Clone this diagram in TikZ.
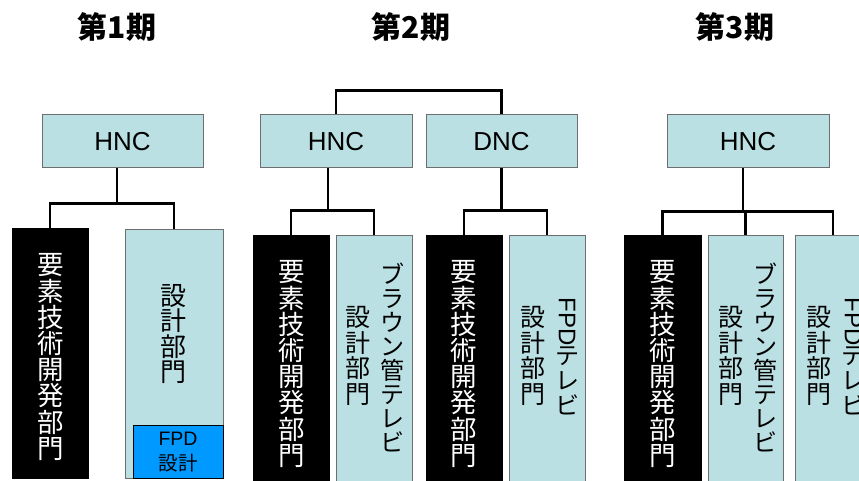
\documentclass[tikz,border=0pt]{standalone}
\usepackage{fontspec}
\setmainfont{Liberation Sans}
\newfontfamily\jp{Noto Sans CJK JP}
\usepackage{graphicx}
\definecolor{lb}{HTML}{BBE0E3}
\definecolor{fpdblue}{HTML}{0099FF}
\definecolor{bd}{HTML}{6E6E6E}
\begin{document}
\begin{tikzpicture}[x=1pt,y=-1pt,
  conn/.style={line width=2.8pt},
  topbox/.style={draw=bd, fill=lb, line width=1pt, inner sep=0pt, minimum height=53pt, font=\fontsize{26}{30}\selectfont},
  lbox/.style={draw=bd, fill=lb, line width=0.9pt, inner sep=0pt},
  kbox/.style={draw=black, fill=black, line width=0.9pt, inner sep=0pt},
  title/.style={inner sep=0pt, font=\jp\bfseries\fontsize{30}{30}\selectfont},
  vtxt/.style={inner sep=0pt, align=center}
]
\useasboundingbox (0,0) rectangle (859,481);
\clip (0,0) rectangle (859,481);

% titles
\node[title] (t1) at (117,27) {第1期};
\node[title] (t2) at (411,27) {第2期};
\node[title] (t3) at (735,27) {第3期};

% ---------- period 1
\node[topbox, minimum width=161pt] (h1) at (122.5,141.5) {HNC};
\node[kbox, minimum width=76pt, minimum height=250pt] (b1) at (50,353) {};
\node[lbox, minimum width=98pt, minimum height=249pt] (c1) at (174,353.5) {};
\node[draw=black, fill=fpdblue, line width=0.9pt, inner sep=0pt, minimum width=90pt, minimum height=53pt] (f1) at (178,451.5) {};
\node[vtxt, text=white, font=\jp\fontsize{26.5}{26.2}\selectfont] (tb1) at (51,357) {要\\素\\技\\術\\開\\発\\部\\門};
\node[vtxt, font=\jp\fontsize{26}{25.5}\selectfont] (tc1) at (173,334) {設\\計\\部\\門};
\node[vtxt, font=\fontsize{19.5}{25}\selectfont] (tf1) at (178,452) {FPD\\{\jp 設計}};

\draw[conn] ([xshift=-5.5pt]h1.south) -- ++(0,36);
\draw[conn] (b1.north) -- ++(0,-24) -| (c1.north);

% ---------- period 2
\node[topbox, minimum width=152pt] (h2) at (336,141.5) {HNC};
\node[topbox, minimum width=151pt] (d2) at (501.5,141.5) {DNC};
\node[kbox, minimum width=76pt, minimum height=250pt] (b2) at (291,360) {};
\node[lbox, minimum width=76pt, minimum height=250pt] (c2) at (374,360) {};
\node[kbox, minimum width=76pt, minimum height=250pt] (b3) at (464,360) {};
\node[lbox, minimum width=76pt, minimum height=250pt] (c3) at (547,360) {};

\node[vtxt, text=white, font=\jp\fontsize{26.5}{26.2}\selectfont] (tb2) at (292,364) {要\\素\\技\\術\\開\\発\\部\\門};
\node[vtxt, font=\jp\fontsize{24}{24}\selectfont] (tc2a) at (392,357) {ブ\\ラ\\ウ\\ン\\管\\テ\\レ\\ビ};
\node[vtxt, font=\jp\fontsize{25}{25.5}\selectfont] (tc2b) at (358,356) {設\\計\\部\\門};
\node[vtxt, text=white, font=\jp\fontsize{26.5}{26.2}\selectfont] (tb3) at (464,364) {要\\素\\技\\術\\開\\発\\部\\門};
\node[vtxt, font=\fontsize{24}{25}\selectfont] (tc3a) at (567,356) {\rotatebox[origin=c]{-90}{FPD}\\{\jp テ}\\{\jp レ}\\{\jp ビ}};
\node[vtxt, font=\jp\fontsize{25}{25.5}\selectfont] (tc3b) at (533,356) {設\\計\\部\\門};

\draw[conn] (h2.north) -- ++(0,-24) -| (d2.north);
\draw[conn] ([xshift=-8pt]h2.south) -- ++(0,43);
\draw[conn] (b2.north) -- ++(0,-24) -| (c2.north);
\draw[conn] (d2.south) -- ++(0,43);
\draw[conn] (b3.north) -- ++(0,-24) -| (c3.north);

% ---------- period 3
\node[topbox, minimum width=162pt] (h3) at (748,141.5) {HNC};
\node[kbox, minimum width=77pt, minimum height=250pt] (b4) at (662.5,360) {};
\node[lbox, minimum width=75pt, minimum height=250pt] (c4) at (745.5,360) {};
\node[lbox, minimum width=76pt, minimum height=250pt] (c5) at (833,360) {};

\node[vtxt, text=white, font=\jp\fontsize{26.5}{26.2}\selectfont] (tb4) at (663,364) {要\\素\\技\\術\\開\\発\\部\\門};
\node[vtxt, font=\jp\fontsize{24}{24}\selectfont] (tc4a) at (765,357) {ブ\\ラ\\ウ\\ン\\管\\テ\\レ\\ビ};
\node[vtxt, font=\jp\fontsize{25}{25.5}\selectfont] (tc4b) at (731,356) {設\\計\\部\\門};
\node[vtxt, font=\fontsize{24}{25}\selectfont] (tc5a) at (853,356) {\rotatebox[origin=c]{-90}{FPD}\\{\jp テ}\\{\jp レ}\\{\jp ビ}};
\node[vtxt, font=\jp\fontsize{25}{25.5}\selectfont] (tc5b) at (819,356) {設\\計\\部\\門};

\draw[conn] ([xshift=-5pt]h3.south) -- ++(0,44);
\draw[conn] (b4.north) -- ++(0,-23) -| (c5.north);
\draw[conn] (c4.north) -- ++(0,-23);
\end{tikzpicture}
\end{document}
